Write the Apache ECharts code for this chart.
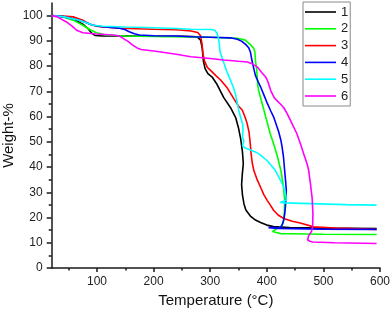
<!DOCTYPE html>
<html>
<head>
<meta charset="utf-8">
<script src="https://cdn.jsdelivr.net/npm/echarts@6/dist/echarts.min.js"></script>
<style>html,body{margin:0;padding:0;background:#fff;}#c{width:392px;height:313px;}</style>
</head>
<body>
<div id="c"></div>
<script>
const seriesNames = ['1','2','3','4','5','6'];
const seriesColors = ['#000000','#00ff00','#ff0000','#0000ff','#00ffff','#ff00ff'];
const xMajorTicks = [100,200,300,400,500,600];
const xMinorTicks = [50,150,250,350,450,550];
const yMajorTicks = [0,10,20,30,40,50,60,70,80,90,100];
const yMinorTicks = [5,15,25,35,45,55,65,75,85,95];

const s1 = [[20,100],[40,99.6],[55,98.8],[64,97.9],[75,96.6],[84,94.9],[90,93.2],[97,92.1],[110,91.9],[150,91.9],[200,91.8],[250,91.8],[270,91.7],[278,91.4],[283,90.3],[286,87],[288,82],[291,79],[296,77],[304,75.5],[312,72.8],[324,67.5],[336,63.5],[345,59.6],[350,55.5],[354,51],[357,46],[358.5,41.4],[356.5,36.5],[355.5,33],[357,29],[359.6,25.5],[363,23],[371,20.6],[380,19],[389,18],[400,17],[412,16.4],[440,16],[500,15.8],[594,15.6]];
const s2 = [[20,100],[40,99.5],[58,98.2],[75,96.2],[87,94.5],[99,93.2],[116,92.3],[150,91.9],[200,91.7],[266,91.5],[300,91.4],[348,91],[362,90.3],[371,88.5],[377,87],[379,85.6],[380,82],[382,79],[384,72.5],[386,70],[392,65],[398,59.9],[406,53.3],[413,48.5],[419,44],[425,38.5],[429,33],[431.5,27],[431,22],[429,18],[426,16.6],[418,15.6],[410,14.5],[413,13.8],[425,13.6],[442,13.6],[500,13.4],[594,13.3]];
const s3 = [[20,100],[40,99.8],[58,99.5],[75,98.2],[87,96.6],[98,95.9],[105,95.6],[140,95],[200,94.6],[240,94.4],[266,93.9],[278,93.3],[283,92],[285.5,89],[287,85],[290,82],[295,79.5],[302,78],[310,76.2],[318,74.6],[330,71.4],[342,67],[350,64.2],[356.8,62.5],[362,59.5],[365,57.5],[368.5,54],[370.5,50],[372,46],[374,42],[377,38.7],[383,35],[389,32],[395,29],[400.7,26.8],[406,25],[412,22.9],[420,21],[430,19.6],[445,18.5],[459,17.8],[483,16.3],[520,15.8],[594,15.3]];
const s4 = [[20,100],[40,99.6],[69,98.2],[93,96.2],[110,95.6],[140,95],[150,94.4],[157,93.6],[166,92.8],[175,92.3],[200,92],[240,91.9],[266,91.6],[300,91.4],[336,91.2],[348,90.6],[356,89.8],[363,88.5],[368,87.3],[371,85.6],[374,82],[377,79],[380,76.2],[385,73.7],[389,71.8],[395,68.5],[401,65.2],[407,62.2],[412,59.9],[418,56],[421,54],[425,50.5],[427,48],[429.5,44],[431,40],[433,35],[434.5,31],[433.5,26],[432,22],[430,19],[427,17],[424,16.1],[412,16],[403,16],[420,15.7],[500,15.4],[594,15.3]];
const s5 = [[20,100],[40,99.6],[69,98.2],[93,96.2],[110,95.8],[150,95.5],[200,95.2],[240,94.9],[266,94.6],[301,94.5],[308,94.2],[312,93],[314.5,91.2],[316,89],[317.5,85.6],[321.5,83],[324.5,81],[330,77.5],[336,74.4],[341,71.5],[345,68.5],[350,63],[354,59.5],[357.5,57],[358,54],[357,52],[359.6,50.2],[357,48.5],[354,48],[362,47.5],[371,46.8],[380,46],[389,44.7],[400.7,42.5],[408,40.6],[415,38.7],[420,36.5],[426,34],[430,32],[433,29.5],[434.5,26.8],[433,26.2],[424,26],[430,25.8],[477,25.5],[540,25.1],[594,24.9]];
const s6 = [[20,100],[30,99.5],[46,97.5],[56,95.8],[64,94.2],[75,93.2],[99,92.7],[128,92.3],[140,91.9],[146,91],[155,89.8],[163,88.3],[171,87.2],[178,86.6],[204,85.9],[240,84.7],[266,83.7],[300,83],[324,82.4],[350,81.9],[366,81.6],[375,80.8],[383,79.7],[391,77.5],[398,75.7],[402,73.8],[407,70.3],[413,67.5],[418,66.3],[424,65],[430,63.5],[436,61.2],[445,57],[453,53.3],[459,49.5],[465,45.4],[471,41.4],[474,38.7],[477,33.5],[480,28],[481.5,21.6],[481,16.3],[479,14.5],[474,12.8],[472,11.2],[476,10.6],[481,10.3],[520,10],[594,9.7]];
const allData = [s1,s2,s3,s4,s5,s6];

const FONT = 'Liberation Sans, Arial, sans-serif';
const chart = echarts.init(document.getElementById('c'), null, {renderer:'canvas'});
const axisCommon = {
  axisLine:{show:true, lineStyle:{color:'#1a1a1a', width:1.5}},
  splitLine:{show:false}
};
chart.setOption({
  animation:false,
  backgroundColor:'#fff',
  grid:{left:51.7, right:12, top:3, bottom:45, containLabel:false, outerBoundsMode:'none'},
  legend:{
    orient:'vertical', left:303, top:2,
    icon:'rect', itemWidth:31, itemHeight:1.6, itemGap:2.8,
    padding:[3,2,3,2],
    borderColor:'#888', borderWidth:1,
    textStyle:{fontFamily:FONT, fontSize:13, lineHeight:14, color:'#222'},
    data:seriesNames.map((n,i)=>({name:n, itemStyle:{color:seriesColors[i]}}))
  },
  xAxis:[
    Object.assign({}, axisCommon, {
      type:'value', min:20, max:600, position:'bottom',
      name:'Temperature (°C)', nameLocation:'middle', nameGap:25, nameMoveOverlap:false,
      nameTextStyle:{fontFamily:FONT, fontSize:15, color:'#111'},
      axisTick:{show:true, length:4, customValues:xMajorTicks, lineStyle:{color:'#1a1a1a', width:1.5}},
      axisLabel:{customValues:xMajorTicks, fontFamily:FONT, fontSize:12, color:'#222', margin:8}
    }),
    {
      type:'value', min:20, max:600, position:'bottom',
      axisLine:{show:false}, splitLine:{show:false},
      axisTick:{show:true, length:2.5, customValues:xMinorTicks, lineStyle:{color:'#1a1a1a', width:1.5}},
      axisLabel:{show:false}
    }
  ],
  yAxis:[
    Object.assign({}, axisCommon, {
      type:'value', min:0, max:105, position:'left',
      name:'Weight-%', nameLocation:'middle', nameGap:35, nameMoveOverlap:false,
      nameTextStyle:{fontFamily:FONT, fontSize:15, color:'#111'},
      axisTick:{show:true, length:5, customValues:yMajorTicks, lineStyle:{color:'#1a1a1a', width:1.5}},
      axisLabel:{customValues:yMajorTicks, fontFamily:FONT, fontSize:12, color:'#222', margin:9}
    }),
    {
      type:'value', min:0, max:105, position:'left',
      axisLine:{show:false}, splitLine:{show:false},
      axisTick:{show:true, length:3, customValues:yMinorTicks, lineStyle:{color:'#1a1a1a', width:1.5}},
      axisLabel:{show:false}
    }
  ],
  series: allData.map((d,i)=>({
    name:seriesNames[i], type:'line', data:d,
    xAxisIndex:0, yAxisIndex:0,
    symbol:'none', showSymbol:false, smooth:false,
    lineStyle:{color:seriesColors[i], width:1.6},
    itemStyle:{color:seriesColors[i]}
  }))
});
</script>
</body>
</html>
